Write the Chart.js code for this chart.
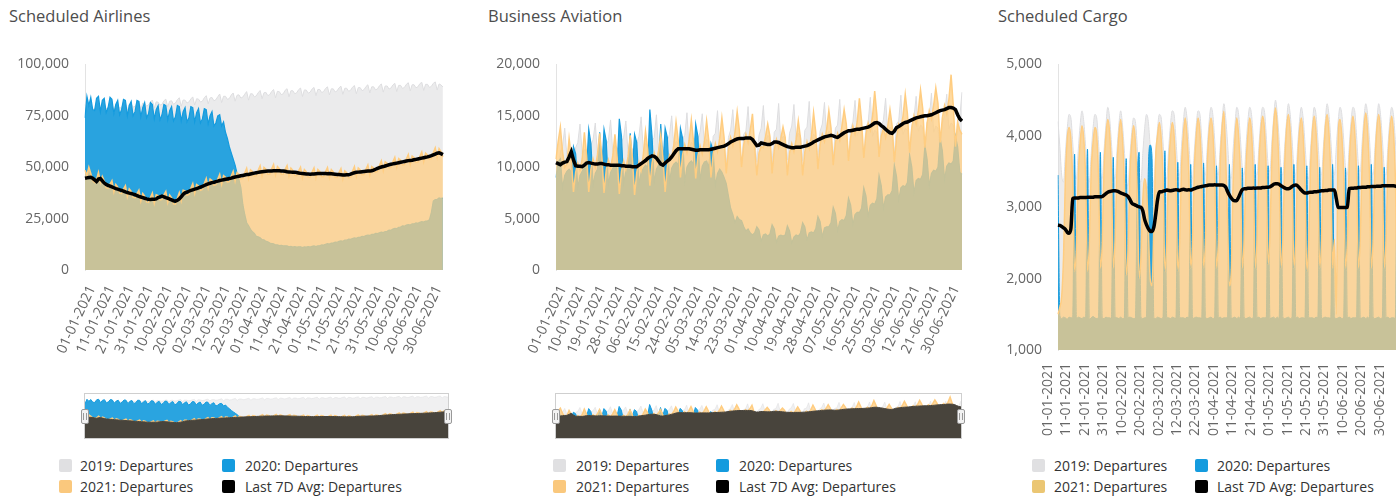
<!DOCTYPE html>
<html>
<head>
<meta charset="utf-8">
<title>Departures</title>
<script src="https://cdn.jsdelivr.net/npm/chart.js@4.4.1/dist/chart.umd.min.js"></script>
<style>
  html, body { margin: 0; padding: 0; background: #fff; }
  body { position: relative; width: 1396px; height: 497px; overflow: hidden; font-family: 'Open Sans', sans-serif; }
  .title { position: absolute; top: 5px; font-size: 16.5px; color: #4d4d4d; line-height: 22px; white-space: nowrap; }
  canvas { position: absolute; }
  .navbox { position: absolute; border: 1px solid #cfcfcf; box-sizing: border-box; }
  .handle { position: absolute; width: 8px; height: 15px; background: #f2f2f2; border: 1px solid #999; border-radius: 2px; box-sizing: border-box; }
  .handle::after { content: ""; position: absolute; left: 1px; top: 3px; width: 2px; height: 7px; border-left: 1px solid #999; border-right: 1px solid #999; }
  .sw { position: absolute; width: 13px; height: 13px; border-radius: 2px; }
  .lg { position: absolute; font-size: 14px; color: #333; line-height: 18px; white-space: nowrap; }
</style>
</head>
<body>

<div class="title" style="left:9px">Scheduled Airlines</div>
<div class="title" style="left:488px">Business Aviation</div>
<div class="title" style="left:998px">Scheduled Cargo</div>

<canvas id="airlines" width="460" height="330" style="left:0;top:40px"></canvas>
<canvas id="bizav" width="510" height="330" style="left:470px;top:40px"></canvas>
<canvas id="cargo" width="460" height="400" style="left:960px;top:40px"></canvas>

<canvas id="airlinesNav" width="363" height="44" style="left:85px;top:394px"></canvas>
<div class="navbox" style="left:84px;top:393px;width:365px;height:46px"></div>
<div class="handle" style="left:81px;top:409px"></div>
<div class="handle" style="left:444px;top:409px"></div>

<canvas id="bizavNav" width="405" height="44" style="left:556px;top:394px"></canvas>
<div class="navbox" style="left:555px;top:393px;width:407px;height:46px"></div>
<div class="handle" style="left:552px;top:409px"></div>
<div class="handle" style="left:957px;top:409px"></div>

<!-- legends -->
<div class="sw" style="left:59px;top:459px;background:rgb(224,224,226)"></div>
<div class="lg" style="left:80px;top:457px">2019: Departures</div>
<div class="sw" style="left:222px;top:459px;background:rgb(20,155,222)"></div>
<div class="lg" style="left:245px;top:457px">2020: Departures</div>
<div class="sw" style="left:59px;top:480px;background:rgb(250,200,125)"></div>
<div class="lg" style="left:80px;top:478px">2021: Departures</div>
<div class="sw" style="left:222px;top:480px;background:#000"></div>
<div class="lg" style="left:245px;top:478px">Last 7D Avg: Departures</div>

<div class="sw" style="left:553px;top:459px;background:rgb(224,224,226)"></div>
<div class="lg" style="left:576px;top:457px">2019: Departures</div>
<div class="sw" style="left:716px;top:459px;background:rgb(20,155,222)"></div>
<div class="lg" style="left:739px;top:457px">2020: Departures</div>
<div class="sw" style="left:553px;top:480px;background:rgb(250,200,125)"></div>
<div class="lg" style="left:576px;top:478px">2021: Departures</div>
<div class="sw" style="left:716px;top:480px;background:#000"></div>
<div class="lg" style="left:739px;top:478px">Last 7D Avg: Departures</div>

<div class="sw" style="left:1032px;top:459px;background:rgb(224,224,226)"></div>
<div class="lg" style="left:1054px;top:457px">2019: Departures</div>
<div class="sw" style="left:1195px;top:459px;background:rgb(20,155,222)"></div>
<div class="lg" style="left:1217px;top:457px">2020: Departures</div>
<div class="sw" style="left:1032px;top:480px;background:rgb(235,198,115)"></div>
<div class="lg" style="left:1054px;top:478px">2021: Departures</div>
<div class="sw" style="left:1195px;top:480px;background:#000"></div>
<div class="lg" style="left:1217px;top:478px">Last 7D Avg: Departures</div>

<script>
// dias (01-01-2021 .. 06-07-2021)
const dates = [
  '01-01-2021','02-01-2021','03-01-2021','04-01-2021','05-01-2021','06-01-2021','07-01-2021','08-01-2021','09-01-2021','10-01-2021',
  '11-01-2021','12-01-2021','13-01-2021','14-01-2021','15-01-2021','16-01-2021','17-01-2021','18-01-2021','19-01-2021','20-01-2021',
  '21-01-2021','22-01-2021','23-01-2021','24-01-2021','25-01-2021','26-01-2021','27-01-2021','28-01-2021','29-01-2021','30-01-2021','31-01-2021',
  '01-02-2021','02-02-2021','03-02-2021','04-02-2021','05-02-2021','06-02-2021','07-02-2021','08-02-2021','09-02-2021','10-02-2021',
  '11-02-2021','12-02-2021','13-02-2021','14-02-2021','15-02-2021','16-02-2021','17-02-2021','18-02-2021','19-02-2021','20-02-2021',
  '21-02-2021','22-02-2021','23-02-2021','24-02-2021','25-02-2021','26-02-2021','27-02-2021','28-02-2021',
  '01-03-2021','02-03-2021','03-03-2021','04-03-2021','05-03-2021','06-03-2021','07-03-2021','08-03-2021','09-03-2021','10-03-2021',
  '11-03-2021','12-03-2021','13-03-2021','14-03-2021','15-03-2021','16-03-2021','17-03-2021','18-03-2021','19-03-2021','20-03-2021',
  '21-03-2021','22-03-2021','23-03-2021','24-03-2021','25-03-2021','26-03-2021','27-03-2021','28-03-2021','29-03-2021','30-03-2021','31-03-2021',
  '01-04-2021','02-04-2021','03-04-2021','04-04-2021','05-04-2021','06-04-2021','07-04-2021','08-04-2021','09-04-2021','10-04-2021',
  '11-04-2021','12-04-2021','13-04-2021','14-04-2021','15-04-2021','16-04-2021','17-04-2021','18-04-2021','19-04-2021','20-04-2021',
  '21-04-2021','22-04-2021','23-04-2021','24-04-2021','25-04-2021','26-04-2021','27-04-2021','28-04-2021','29-04-2021','30-04-2021',
  '01-05-2021','02-05-2021','03-05-2021','04-05-2021','05-05-2021','06-05-2021','07-05-2021','08-05-2021','09-05-2021','10-05-2021',
  '11-05-2021','12-05-2021','13-05-2021','14-05-2021','15-05-2021','16-05-2021','17-05-2021','18-05-2021','19-05-2021','20-05-2021',
  '21-05-2021','22-05-2021','23-05-2021','24-05-2021','25-05-2021','26-05-2021','27-05-2021','28-05-2021','29-05-2021','30-05-2021','31-05-2021',
  '01-06-2021','02-06-2021','03-06-2021','04-06-2021','05-06-2021','06-06-2021','07-06-2021','08-06-2021','09-06-2021','10-06-2021',
  '11-06-2021','12-06-2021','13-06-2021','14-06-2021','15-06-2021','16-06-2021','17-06-2021','18-06-2021','19-06-2021','20-06-2021',
  '21-06-2021','22-06-2021','23-06-2021','24-06-2021','25-06-2021','26-06-2021','27-06-2021','28-06-2021','29-06-2021','30-06-2021',
  '01-07-2021','02-07-2021','03-07-2021','04-07-2021','05-07-2021','06-07-2021'
];

// ---- Scheduled Airlines ----
const airlinesAvg = [
  44600,44800,45000,45100,44600,43800,43000,
  44200,44500,43400,42300,41600,41200,40800,
  40400,40000,39600,39300,39000,38700,38400,
  38000,37700,37400,37200,36900,36600,36200,
  35800,35500,35200,34900,34600,34400,34300,
  34400,34400,34600,35200,35600,35900,35600,
  35200,34900,34500,34100,33700,33500,33900,
  34600,35600,36800,37500,37900,38300,38700,
  39000,39300,39600,39900,40300,40700,41100,
  41500,41900,42200,42500,42700,43000,43200,
  43500,43700,43900,44100,44300,44500,44700,
  45000,45200,45400,45600,45800,46000,46200,
  46400,46500,46700,46900,47100,47300,47500,
  47700,47800,47900,48000,48100,48200,48200,
  48300,48300,48300,48300,48200,48100,48000,
  47800,47700,47600,47500,47500,47400,47200,
  47000,46900,46800,46700,46700,46600,46700,
  46700,46800,46900,46900,46900,46900,46900,
  46800,46900,46800,46700,46600,46500,46400,
  46300,46200,46200,46300,46300,46600,47000,
  47300,47500,47600,47700,47800,47900,48000,
  48100,48200,48300,48600,49000,49400,49800,
  50100,50300,50600,50900,51200,51400,51600,
  51800,52000,52200,52400,52600,52800,53000,
  53200,53300,53400,53600,53800,54000,54200,
  54400,54600,54800,55000,55300,55600,56000,
  56400,56800,57000,56600,56100
];
const airlines2021 = [
  48500,46000,50000,47000,43500,42500,44000,
  47500,42500,45500,43300,40000,39700,41800,
  43400,38000,41600,40300,37500,37200,39400,
  41000,35700,39400,38200,35400,35100,37200,
  38800,33500,37200,35900,33100,32900,35300,
  37400,32400,36600,36200,34100,34400,36600,
  38200,32900,36500,35100,32200,32000,34900,
  37600,33600,38800,38500,36400,36800,39700,
  42000,37300,41600,40900,38800,39200,42100,
  44500,39900,44200,43500,41200,41500,44200,
  46500,41700,45900,45100,42800,43000,45700,
  48000,43200,47400,46600,44300,44500,47200,
  49400,44500,48700,47900,45600,45800,48500,
  50700,45800,49900,49000,46600,46700,49200,
  51300,46300,50300,49300,46700,46600,49000,
  50800,45700,49600,48500,46000,45900,48200,
  50000,44900,48800,47700,45200,45100,47700,
  49700,44800,48900,47900,45400,45400,47900,
  49800,44900,48800,47700,45100,45000,47400,
  49300,44200,48200,47300,44800,45100,48000,
  50300,45500,49600,48700,46300,46400,49000,
  51100,46200,50300,49600,47500,47900,50800,
  53100,48300,52600,51900,49700,49900,52600,
  54800,50000,54200,53400,51100,51300,54000,
  56200,51300,55400,54600,52300,52500,55200,
  57400,52600,56800,56000,53800,54100,57000,
  59400,54800,59000,57600,55000
];
const airlines2020 = [
  74000,84500,80000,84000,78000,77500,83500,
  84500,77000,82500,83500,76500,79000,84000,
  83000,76000,80500,82500,75500,78000,83000,
  82500,75000,80000,82000,75000,77000,82500,
  82000,74500,79000,81500,74000,76000,81500,
  80500,73500,78000,80000,73000,75500,80500,
  80000,73000,77500,79500,72500,74500,80000,
  79500,72500,77000,79000,72000,74000,79500,
  79000,72000,76500,78500,71500,73500,78500,
  78000,71000,75000,77000,70000,71500,75000,
  75500,70000,72000,67000,64000,60000,57000,
  54000,51000,47000,44000,40000,32000,27000,
  23000,21500,19800,18600,17800,16400,16100,
  15700,14800,14700,13900,13700,13100,12900,
  12700,12200,12200,11900,12000,11700,11800,
  11700,11300,11500,11200,11400,11100,11300,
  11300,10900,11200,11100,11400,11200,11500,
  11700,11400,11800,11800,12200,12100,12500,
  12800,12600,13100,13100,13600,13500,13900,
  14200,14000,14500,14500,15000,14900,15300,
  15600,15400,15900,15900,16400,16300,16700,
  17000,16800,17300,17300,17800,17700,18100,
  18400,18200,18700,18800,19400,19300,19900,
  20300,20100,20800,20900,21500,21300,21800,
  22100,21900,22400,22400,22900,22700,23200,
  23500,23300,23800,23800,24500,28000,33500,
  34200,34300,35100,34800,35000
];
const airlines2019 = [
  80500,76500,79500,79500,78000,78500,80000,
  81000,76800,79600,80000,78500,78700,80500,
  81200,77000,80300,80000,78700,79200,80800,
  81800,77500,80700,80800,79200,79600,81200,
  82200,78200,81200,81100,79700,80300,81600,
  82700,78700,81800,81600,80200,80600,82300,
  83100,79300,82100,82300,80600,81200,82800,
  83800,79600,82700,82600,81200,81700,83200,
  84200,80200,83300,83100,81700,82100,83800,
  84800,80800,83700,83900,82300,82800,84300,
  85600,81400,84500,84500,83000,83400,85100,
  86100,82100,85000,85200,83600,84100,85500,
  86800,82600,85700,85700,84200,84700,86200,
  87300,83300,86200,86400,84800,85300,86800,
  87800,83800,86900,86700,85300,85700,87400,
  88200,84200,87200,87200,85700,86200,87700,
  88500,84400,87600,87500,86000,86500,88000,
  88800,84800,87800,87800,86300,86800,88300,
  89100,85100,88100,88100,86600,87100,88600,
  89400,85400,88400,88400,86900,87400,88900,
  89700,85700,88700,88700,87200,87700,89200,
  90100,86100,89100,89100,87600,88100,89600,
  90500,86500,89500,89500,88000,88500,90000,
  90800,86800,89800,89800,88300,88800,90300,
  91100,87100,90100,90100,88600,89100,90600,
  91300,87300,90300,90300,88800,89300,90800,
  91500,87500,90500,90000,89000
];

// ---- Business Aviation ----
const bizavAvg = [
  10450,10350,10250,10400,10500,10550,11000,
  11500,10700,10150,10100,10100,10050,10200,
  10400,10450,10400,10350,10300,10300,10350,
  10350,10300,10250,10250,10200,10200,10200,
  10200,10200,10150,10150,10100,10100,10100,
  10050,10050,10050,10200,10350,10500,10650,
  10850,11000,11100,11050,10900,10600,10300,
  10200,10400,10600,10750,11000,11300,11600,
  11800,11800,11800,11800,11800,11800,11750,
  11700,11650,11650,11700,11700,11700,11700,
  11700,11750,11800,11850,11900,11950,12000,
  12050,12150,12300,12450,12550,12650,12750,
  12800,12800,12800,12850,12850,12850,12700,
  12400,12100,12150,12350,12300,12250,12200,
  12200,12300,12450,12450,12400,12300,12200,
  12100,12000,11950,11900,11900,11950,11950,
  11950,12000,12050,12100,12200,12300,12450,
  12550,12650,12750,12850,12950,13000,13050,
  13100,13050,12950,12900,13050,13200,13350,
  13450,13550,13550,13600,13650,13700,13700,
  13750,13800,13850,13900,14000,14150,14300,
  14350,14250,14050,13900,13700,13500,13350,
  13300,13500,13850,13950,14100,14250,14350,
  14400,14500,14600,14700,14800,14850,14900,
  14950,15000,15000,15050,15100,15200,15300,
  15400,15500,15550,15600,15700,15800,15800,
  15750,15600,15100,14700,14500
];
const bizav2021 = [
  10800,12500,13900,11500,10000,10300,12800,
  11000,7600,9500,10400,9700,10800,13400,
  11200,7600,9800,10800,10000,11200,13300,
  11100,7500,9700,10700,9900,11100,13200,
  11000,7400,9600,10600,9800,11000,13100,
  10900,7300,9500,10500,9700,11200,13500,
  11800,8200,10400,11400,10600,11600,13200,
  10900,7600,10000,11200,10900,12200,14400,
  12600,9000,11200,12200,11400,12600,14600,
  12500,8900,11100,12100,11300,12500,14500,
  12600,9000,11300,12300,11500,12800,14800,
  12900,9400,11700,12900,12100,13400,15400,
  13600,10000,12200,13200,12400,13600,15200,
  12000,9200,11400,12000,11900,13000,14200,
  13000,9400,11700,12700,11900,12800,13900,
  12900,9200,11400,12300,11500,12700,14500,
  12800,9200,11500,12500,11800,13000,15300,
  13400,9800,12200,13200,12500,13700,15500,
  13800,10200,12400,13300,12600,14000,15600,
  14200,10600,12900,14000,13200,14400,16700,
  14500,10900,13200,14300,13600,14900,17400,
  15100,11000,13000,13800,12900,14000,15600,
  14000,10500,12800,14200,13800,15000,17100,
  15200,11400,13800,15000,14200,15500,17500,
  15700,11900,14300,15500,14700,16000,17700,
  16200,12400,14800,16000,15200,16600,19000,
  16000,12000,14400,13600,13200
];
const bizav2020 = [
  9000,10500,10800,8000,9200,9600,9800,
  9500,12000,11300,8000,9200,9600,10000,
  9800,13700,12300,8200,9400,9800,13400,
  9800,13700,12600,8300,9500,9900,10200,
  9900,14700,13000,8400,9600,10000,13300,
  9800,13200,12400,8300,9500,9900,10200,
  10000,15600,13000,8500,9800,10200,14200,
  10100,13800,12900,8600,9900,10300,10500,
  10200,13800,12800,8600,10000,10400,10600,
  10300,14200,13000,8700,10100,10500,10600,
  10000,12300,11500,8200,9400,9800,9500,
  9000,8400,7200,6000,5400,4600,5200,
  4900,4800,4200,3800,4000,3600,3400,
  3600,4200,3900,2800,3400,3500,3300,
  3500,4400,4000,2700,3300,3400,3300,
  3400,4300,3800,2600,3200,3400,3300,
  3600,4600,4200,2900,3600,3700,3600,
  4000,5200,4700,3200,4100,4200,4200,
  4600,6100,5500,3800,4700,4900,4800,
  5300,7000,6300,4400,5400,5600,5600,
  6000,8000,7200,5200,6300,6500,6400,
  6900,9200,8200,6000,7100,7300,7300,
  7700,10200,9100,6800,8000,8200,8100,
  8500,11200,10000,7500,8700,8900,8800,
  9300,12100,10800,8200,9400,9700,9600,
  10000,12800,11600,8800,10100,10400,10300,
  10600,13000,12000,9500,9300
];
const bizav2019 = [
  10500,9000,11500,12000,13800,11000,11500,
  11500,9300,11900,12400,14200,11300,11700,
  11700,9200,12100,12700,14300,11200,11900,
  11600,9500,12200,12600,14600,11500,12100,
  11900,9400,12400,12900,14500,11400,12000,
  11800,9700,12300,13000,14900,11700,12300,
  12100,9600,12600,12900,15100,11600,12200,
  12000,9900,12500,13200,15000,11900,12500,
  12300,9800,12800,13100,15300,11800,12400,
  12200,10100,12700,13400,15200,12100,12700,
  12500,10000,13000,13300,15500,12000,12600,
  12400,10300,12900,13600,15600,12300,12900,
  12700,10200,13200,13500,15900,12200,12800,
  12600,10500,13100,13800,16000,12500,13100,
  12900,10400,13400,13700,16200,12400,13000,
  12800,10700,13300,14000,16100,12700,13300,
  13100,10600,13600,13900,16400,12600,13200,
  13000,10900,13500,14200,16300,12900,13500,
  13300,10800,13800,14100,16600,12800,13400,
  13200,11100,13700,14400,16500,13100,13700,
  13500,11000,14000,14300,16800,13000,13600,
  13400,11300,13900,14600,16700,13300,13900,
  13700,11200,14200,14500,17000,13200,13800,
  13600,11500,14100,14800,16900,13500,14100,
  13900,11400,14400,14700,17200,13400,14000,
  13800,11700,14300,15000,17100,13700,14300,
  14100,11600,14600,14900,17300
];

// ---- Scheduled Cargo ----
const cargoAvg = [
  2750,2745,2730,2710,2690,2650,2635,
  2700,3120,3130,3130,3130,3135,3135,
  3135,3135,3140,3140,3140,3140,3145,
  3145,3145,3145,3150,3170,3190,3210,
  3220,3225,3230,3230,3225,3215,3200,
  3190,3180,3170,3150,3110,3060,3040,
  3030,3015,3005,3000,2950,2830,2755,
  2700,2665,2660,2720,2895,3100,3215,
  3215,3225,3230,3240,3235,3230,3235,
  3240,3245,3240,3235,3245,3250,3245,
  3240,3245,3240,3250,3260,3270,3280,
  3285,3290,3295,3300,3305,3310,3310,
  3310,3315,3310,3310,3310,3310,3305,
  3280,3220,3170,3130,3100,3090,3095,
  3140,3200,3245,3260,3260,3265,3265,
  3265,3270,3265,3270,3270,3270,3275,
  3275,3280,3280,3285,3300,3320,3330,
  3330,3320,3300,3285,3270,3260,3260,
  3270,3290,3305,3310,3300,3270,3240,
  3215,3200,3200,3205,3210,3210,3215,
  3215,3220,3225,3230,3230,3235,3235,
  3240,3240,3240,3240,3120,2995,2995,
  2995,2995,2995,3000,3260,3265,3265,
  3270,3270,3275,3275,3280,3280,3280,
  3285,3285,3290,3290,3290,3295,3295,
  3295,3300,3300,3300,3300,3300,3300,
  3300,3295,3290,3290,3285
];
const cargo2021 = [
  1500,1600,1750,2300,3400,3950,4115,
  3950,3350,2100,2450,3450,3900,4140,
  3950,3400,2100,2500,3500,3900,4115,
  4000,3400,2150,2500,3550,4000,4230,
  4050,3450,2150,2550,3550,4000,4230,
  3950,3350,2050,2400,3450,3900,4140,
  3900,3200,2000,2300,3100,3400,3250,
  2700,2000,1900,2700,3700,4000,4185,
  3950,3400,2100,2500,3550,3950,4185,
  4000,3400,2100,2500,3550,4000,4250,
  4000,3450,2150,2500,3550,4000,4250,
  4050,3450,2150,2550,3600,4050,4250,
  4050,3450,2150,2550,3600,4100,4345,
  3700,2800,1900,2100,3300,3950,4250,
  4000,3450,2150,2550,3550,4000,4250,
  4050,3450,2150,2550,3600,4050,4275,
  4100,3500,2200,2600,3650,4150,4390,
  4100,3450,2150,2550,3600,4100,4300,
  4050,3450,2150,2550,3600,4050,4250,
  4000,3400,2100,2500,3550,4050,4275,
  4050,3450,2150,2550,3600,4100,4300,
  4050,3450,2150,2550,1500,3950,4230,
  4000,3450,2150,2550,3600,4050,4275,
  4050,3450,2150,2550,3600,4100,4320,
  4050,3450,2150,2550,3600,4100,4300,
  4050,3450,2150,2550,3600,4050,4275,
  4050,3450,2150,2550,3600
];
const cargo2020 = [
  3450,1480,1440,1460,1450,1430,1460,
  1450,1470,3745,1440,1460,1450,1440,
  1460,1450,3815,1430,1450,1470,1450,
  1440,1460,3770,1450,1440,1460,1450,
  1450,1440,3700,1460,1450,1440,1460,
  1440,1450,3680,1450,1460,1450,1440,
  1450,3300,3770,1460,1440,1450,1470,
  3500,3870,3700,1450,1440,1460,1450,
  1440,1460,3790,1450,1450,1440,1460,
  1450,1440,3630,1460,1450,1450,1440,
  1460,1450,3600,1440,1450,1460,1450,
  1450,1440,3620,1460,1440,1450,1460,
  1440,1460,3580,1450,1460,1440,1450,
  1450,1450,3600,1440,1450,1460,1440,
  1460,1440,3550,1460,1440,1450,1460,
  1440,1460,3600,1450,1460,1440,1450,
  1450,1450,3580,1440,1450,1460,1440,
  1460,1440,3560,1460,1440,1450,1460,
  1440,1460,3600,1450,1460,1440,1450,
  1450,1440,3580,1460,1450,1450,1440,
  1460,1450,3560,1440,1450,1460,1450,
  1450,1440,3600,1460,1440,1450,1460,
  1440,1460,3550,1450,1460,1440,1450,
  1450,1450,3580,1440,1450,1460,1440,
  1460,1440,3600,1460,1440,1450,1460,
  1440,1460,3560,1450,1460,1440,1450,
  1450,1440,3580,1460,1450
];
const cargo2019 = [
  4200,3850,3450,3350,3750,4100,4300,
  4250,3900,3500,3400,3800,4150,4350,
  4200,3850,3450,3350,3750,4100,4300,
  4250,3900,3500,3400,3800,4150,4400,
  4250,3900,3500,3400,3800,4150,4350,
  4150,3800,3400,3300,3700,4050,4250,
  4200,3850,3450,3350,3750,4100,4300,
  4200,3850,3450,3350,3750,4100,4300,
  4250,3900,3500,3400,3800,4150,4350,
  4300,3950,3550,3450,3850,4200,4400,
  4250,3900,3500,3400,3800,4150,4350,
  4300,3950,3550,3450,3850,4200,4400,
  4300,3950,3550,3450,3850,4200,4450,
  4250,3900,3500,3400,3800,4150,4400,
  4300,3950,3550,3450,3850,4200,4400,
  4300,3950,3550,3450,3850,4200,4400,
  4350,4000,3600,3500,3900,4250,4500,
  4300,3950,3550,3450,3850,4200,4450,
  4300,3950,3550,3450,3850,4200,4400,
  4250,3900,3500,3400,3800,4150,4400,
  4300,3950,3550,3450,3850,4200,4450,
  4300,3950,3550,3450,3850,4200,4400,
  4300,3950,3550,3450,3850,4200,4400,
  4350,4000,3600,3500,3900,4250,4450,
  4300,3950,3550,3450,3850,4200,4450,
  4300,3950,3550,3450,3850,4200,4400,
  4300,3950,3550,3450,3850
];

// colores
const ORANGE = '255,205,129';
const BLUE = '20,155,222';
const GREY = '222,222,224';
const NAV_DARK = 'rgb(72,68,60)';
const FONT = { family: "'Open Sans', sans-serif", size: 14 };

function seriesSets(avg, y2021, y2020, y2019, avgStyle, s) {
  return [
    Object.assign({ label: 'Last 7D Avg: Departures', data: avg, order: 0 }, avgStyle),
    { label: '2021: Departures', data: y2021, borderColor: `rgb(${ORANGE})`, borderWidth: 1.5,
      backgroundColor: `rgba(${ORANGE},0.75)`, fill: 'origin', order: 1 },
    { label: '2020: Departures', data: y2020, borderColor: `rgb(${BLUE})`, borderWidth: s.blueWidth,
      backgroundColor: `rgba(${BLUE},0.9)`, fill: 'origin', order: 2 },
    { label: '2019: Departures', data: y2019, borderColor: `rgba(${GREY},${s.greyLine})`, borderWidth: 1,
      backgroundColor: `rgba(${GREY},${s.greyFill})`, fill: 'origin', order: 3 }
  ];
}

function mainChart(id, avg, y2021, y2020, y2019, o) {
  return new Chart(document.getElementById(id), {
    type: 'line',
    data: {
      labels: dates,
      datasets: seriesSets(avg, y2021, y2020, y2019,
        { borderColor: '#000', borderWidth: 3.5, fill: false },
        { blueWidth: o.blueWidth, greyLine: 1, greyFill: 0.6 })
    },
    options: {
      responsive: false,
      animation: false,
      events: [],
      layout: { padding: { top: 21, right: o.right, left: 0, bottom: 0 } },
      plugins: { legend: { display: false }, tooltip: { enabled: false } },
      elements: {
        point: { radius: 0 },
        line: { tension: 0, cubicInterpolationMode: o.smooth ? 'monotone' : 'default' }
      },
      scales: {
        x: {
          grid: { display: false, drawTicks: false },
          border: { display: false },
          ticks: {
            autoSkip: false, minRotation: o.rot, maxRotation: o.rot, padding: 13,
            labelOffset: o.labelOffset, color: '#666', font: FONT,
            callback: (v, i) => (i % o.every === 0 ? dates[i] : null)
          },
          afterFit: s => { s.height = o.xh; }
        },
        y: {
          min: o.min, max: o.max,
          grid: { display: false, drawTicks: false },
          border: { display: true, color: '#e3e3e3' },
          ticks: { stepSize: o.step, padding: 16, color: '#666', font: FONT,
                   callback: v => v.toLocaleString('en-US') },
          afterFit: s => { s.width = o.yw; }
        }
      }
    }
  });
}

function navChart(id, avg, y2021, y2020, y2019, max) {
  return new Chart(document.getElementById(id), {
    type: 'line',
    data: {
      labels: dates,
      datasets: seriesSets(avg, y2021, y2020, y2019,
        { borderColor: NAV_DARK, borderWidth: 1, backgroundColor: NAV_DARK, fill: 'origin' },
        { blueWidth: 1, greyLine: 0.5, greyFill: 0.45 })
    },
    options: {
      responsive: false,
      animation: false,
      events: [],
      layout: { padding: 0 },
      plugins: { legend: { display: false }, tooltip: { enabled: false } },
      elements: { point: { radius: 0 }, line: { tension: 0 } },
      scales: {
        x: { display: false },
        y: { display: false, min: 0, max: max }
      }
    }
  });
}

mainChart('airlines', airlinesAvg, airlines2021, airlines2020, airlines2019,
  { right: 12, yw: 85, xh: 100, rot: 65, every: 10, labelOffset: 7, min: 0, max: 100000, step: 25000, blueWidth: 1.2 });
mainChart('bizav', bizavAvg, bizav2021, bizav2020, bizav2019,
  { right: 18, yw: 86, xh: 100, rot: 65, every: 9, labelOffset: 7, min: 0, max: 20000, step: 5000, blueWidth: 1.2 });
mainChart('cargo', cargoAvg, cargo2021, cargo2020, cargo2019,
  { right: 14, yw: 98, xh: 90, rot: 90, every: 10, labelOffset: -10, min: 1000, max: 5000, step: 1000, blueWidth: 1, smooth: true });

navChart('airlinesNav', airlinesAvg, airlines2021, airlines2020, airlines2019, 96000);
navChart('bizavNav', bizavAvg, bizav2021, bizav2020, bizav2019, 20500);
</script>
</body>
</html>
